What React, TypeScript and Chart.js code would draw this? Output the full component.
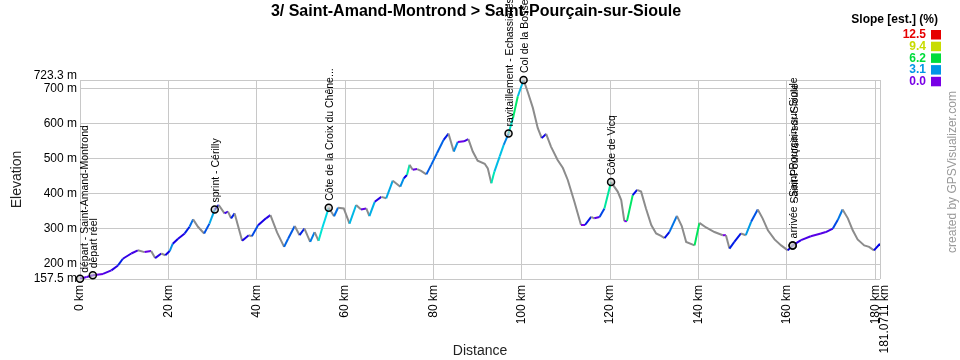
import React, { useEffect, useRef } from 'react';
import { Chart, registerables } from 'chart.js';

Chart.register(...registerables);

const titleText = '3/ Saint-Amand-Montrond > Saint-Pourçain-sur-Sioule';
const xAxisTitle = 'Distance';
const yAxisTitle = 'Elevation';
const creditText = 'created by GPSVisualizer.com';
const legendTitle = 'Slope [est.] (%)';

const distKm = [
  0, 1.5, 2.9, 5.2, 7.1, 8.6, 9.7, 11.6, 13.1, 14.6, 16.1, 17.0, 18.4, 19.3, 20.3, 21.0, 22.2, 23.7, 24.8,
  25.6, 26.7, 28.1, 29.3, 30.5, 31.4, 32.7, 33.5, 34.2, 35.0, 36.7, 38.2, 38.9, 40.3, 42.1, 43.1, 44.6,
  46.2, 47.1, 48.6, 49.7, 50.8, 52.1, 53.1, 54.0, 54.8, 56.3, 57.5, 58.4, 59.7, 61.0, 62.5, 63.6, 64.8,
  65.5, 66.7, 68.2, 69.3, 70.8, 72.5, 73.3, 74.0, 74.6, 75.3, 76.3, 77.2, 78.4, 79.5, 80.8, 82.3, 83.4,
  84.6, 85.5, 86.9, 87.9, 88.9, 90.0, 91.6, 92.3, 93.1, 93.8, 95.0, 95.9, 97.0, 98.0, 99.1, 100.4, 101.4,
  102.5, 103.6, 104.5, 105.5, 106.6, 108.1, 109.3, 110.4, 111.9, 113.4, 114.3, 115.7, 116.4, 117.6, 118.7,
  120.2, 121.7, 122.5, 123.2, 123.8, 125.1, 126.1, 127.0, 128.1, 129.3, 130.4, 131.5, 132.3, 133.4, 135.1,
  136.2, 137.2, 139.1, 140.2, 141.7, 143.6, 145.5, 146.2, 147.0, 148.1, 149.6, 150.7, 151.9, 153.4, 154.5,
  155.7, 157.2, 158.7, 160.2, 161.3, 163.2, 165.4, 167.7, 168.8, 170.4, 171.5, 172.6, 173.8, 174.9, 176.0,
  177.5, 178.6, 179.7, 181.0711,
];

const elevM = [
  158, 163, 168, 172, 182, 196, 215, 230, 239, 234, 237, 217, 230, 225, 237, 258, 272, 287, 306,
  327, 306, 287, 315, 355, 368, 344, 349, 330, 344, 266, 282, 279, 310, 330, 339, 290,
  249, 272, 308, 282, 301, 263, 291, 266, 301, 360, 336, 360, 358, 315, 368, 355, 358,
  336, 377, 391, 387, 437, 420, 444, 453, 482, 468, 470, 465, 455, 482, 515, 553, 571,
  520, 547, 549, 555, 520, 494, 485, 472, 430, 463, 506, 539, 571, 615, 677, 723.3, 687,
  644, 587, 558, 570, 534, 496, 473, 439, 377, 311, 311, 334, 330, 334, 358,
  433, 406, 382, 322, 322, 396, 411, 406, 358, 311, 287, 280, 274, 291, 337,
  308, 263, 253, 317, 304, 291, 282, 282, 244, 263, 287, 282, 320, 355, 330,
  296, 270, 253, 239, 253, 268, 279, 287, 291, 301, 325, 355, 330, 296, 270,
  253, 249, 239, 258,
];

const markerKm = [0, 2.9, 30.5, 56.3, 97.0, 100.4, 120.2, 161.3, 161.3];
const markerElev = [158, 168, 355, 360, 571, 723.3, 433, 253, 253];
const markerLabels = [
  'départ - Saint-Amand-Montrond',
  'départ réel',
  'sprint - Cérilly',
  'Côte de la Croix du Chêne...',
  'ravitaillement - Echassières',
  'Col de la Bosse',
  'Côte de Vicq',
  'arrivée - Saint-Pourçain-sur-Sioule',
  'Saint-Pourçain-sur-Sioule',
];

const xTickValues = [0, 20, 40, 60, 80, 100, 120, 140, 160, 180, 181.0711];
const yTickValues = [157.5, 200, 300, 400, 500, 600, 700, 723.3];

const slopeStops = [0, 3.1, 6.2, 9.4, 12.5];
const slopeLabels = ['0.0', '3.1', '6.2', '9.4', '12.5'];
const slopeColors = ['#7800e6', '#0096e6', '#00dc3c', '#c8dc00', '#e60000'];
const slopeHues = [271, 201, 136, 65, 0];
const descentColor = '#8c8c8c';

const FONT = '"Liberation Sans", Arial, Helvetica, sans-serif';

function hsvToRgb(h: number, s: number, v: number) {
  const c = v * s;
  const hp = h / 60;
  const x = c * (1 - Math.abs((hp % 2) - 1));
  let r = 0, g = 0, b = 0;
  if (hp < 1) [r, g, b] = [c, x, 0];
  else if (hp < 2) [r, g, b] = [x, c, 0];
  else if (hp < 3) [r, g, b] = [0, c, x];
  else if (hp < 4) [r, g, b] = [0, x, c];
  else if (hp < 5) [r, g, b] = [x, 0, c];
  else [r, g, b] = [c, 0, x];
  const m = v - c;
  return `rgb(${Math.round((r + m) * 255)},${Math.round((g + m) * 255)},${Math.round((b + m) * 255)})`;
}

function slopeColor(x0: number, y0: number, x1: number, y1: number) {
  const dx = (x1 - x0) * 1000;
  const s = dx > 0 ? ((y1 - y0) / dx) * 100 : 0;
  if (s < 0) return descentColor;
  if (s >= slopeStops[slopeStops.length - 1]) return slopeColors[slopeColors.length - 1];
  for (let i = 0; i < slopeStops.length - 1; i++) {
    if (s <= slopeStops[i + 1]) {
      const t = (s - slopeStops[i]) / (slopeStops[i + 1] - slopeStops[i]);
      const h = slopeHues[i] + (slopeHues[i + 1] - slopeHues[i]) * t;
      return hsvToRgb(h, 1, 0.9);
    }
  }
  return slopeColors[0];
}

const labelNudge: Record<number, { dx: number; dy: number }> = {
  0: { dx: 5, dy: 6 },
  8: { dx: 2, dy: 42 },
};

const decorPlugin = {
  id: 'decor',
  afterDraw(chart: any) {
    const ctx = chart.ctx as CanvasRenderingContext2D;
    const xs = chart.scales.x;
    const ys = chart.scales.y;
    ctx.save();
    // title
    ctx.fillStyle = '#000';
    ctx.font = `bold 16px ${FONT}`;
    ctx.textAlign = 'center';
    ctx.textBaseline = 'middle';
    ctx.fillText(titleText, 476, 12);

    // legend
    ctx.font = `bold 12px ${FONT}`;
    ctx.textAlign = 'right';
    ctx.fillText(legendTitle, 938, 20);
    for (let i = 0; i < slopeStops.length; i++) {
      const idx = slopeStops.length - 1 - i;
      const y = 30 + i * 11.7;
      ctx.fillStyle = slopeColors[idx];
      ctx.fillText(slopeLabels[idx], 926, y + 5);
      ctx.fillRect(931, y, 10, 9.5);
    }

    // credit
    ctx.save();
    ctx.translate(953, 172);
    ctx.rotate(-Math.PI / 2);
    ctx.font = `12px ${FONT}`;
    ctx.fillStyle = '#999';
    ctx.textAlign = 'center';
    ctx.fillText(creditText, 0, 0);
    ctx.restore();

    // last x label (offset to the right of the 180 km label)
    ctx.save();
    const lastX = xTickValues[xTickValues.length - 1];
    ctx.translate(xs.getPixelForValue(lastX) + 5, xs.top + 6);
    ctx.rotate(-Math.PI / 2);
    ctx.font = `12px ${FONT}`;
    ctx.fillStyle = '#000';
    ctx.textAlign = 'right';
    ctx.fillText(`${lastX} km`, 0, 0);
    ctx.restore();

    // top y label (lifted above the 700 m label)
    const topY = yTickValues[yTickValues.length - 1];
    ctx.font = `12px ${FONT}`;
    ctx.fillStyle = '#000';
    ctx.textAlign = 'right';
    ctx.textBaseline = 'middle';
    ctx.fillText(`${topY} m`, ys.right - 3, ys.getPixelForValue(topY) - 4);

    // marker labels
    ctx.font = `10.5px ${FONT}`;
    ctx.fillStyle = '#000';
    ctx.textAlign = 'left';
    ctx.textBaseline = 'middle';
    for (let i = 0; i < markerKm.length; i++) {
      const n = labelNudge[i] || { dx: 1.5, dy: 7 };
      const px = xs.getPixelForValue(markerKm[i]) + n.dx;
      const py = ys.getPixelForValue(markerElev[i]) - n.dy;
      ctx.save();
      ctx.translate(px, py);
      ctx.rotate(-Math.PI / 2);
      ctx.fillText(markerLabels[i], 0, 0);
      ctx.restore();
    }
    ctx.restore();
  },
};

export default function App() {
  const ref = useRef<HTMLCanvasElement>(null);
  useEffect(() => {
    document.body.style.margin = '0';
    const canvas = ref.current;
    if (!canvas) return;
    const profile = distKm.map((d, i) => ({ x: d, y: elevM[i] }));
    const marks = markerKm.map((d, i) => ({ x: d, y: markerElev[i] }));
    const chart = new Chart(canvas, {
      type: 'line',
      data: {
        datasets: [
          {
            label: 'markers',
            data: marks,
            showLine: false,
            clip: false,
            pointRadius: 3.5,
            pointBorderWidth: 1.5,
            pointBorderColor: '#000',
            pointBackgroundColor: 'rgba(200,200,200,0.6)',
          },
          {
            label: 'Elevation',
            data: profile,
            borderWidth: 2,
            pointRadius: 0,
            tension: 0,
            borderColor: descentColor,
            segment: {
              borderColor: (c: any) => slopeColor(c.p0.parsed.x, c.p0.parsed.y, c.p1.parsed.x, c.p1.parsed.y),
            },
          },
        ],
      },
      options: {
        animation: false,
        responsive: false,
        layout: { padding: { top: 80, right: 80, left: 0, bottom: 0 } },
        plugins: { legend: { display: false }, tooltip: { enabled: false }, title: { display: false } },
        scales: {
          x: {
            type: 'linear',
            min: 0,
            max: 181.0711,
            afterBuildTicks: (s: any) => {
              s.ticks = xTickValues.map((v) => ({ value: v }));
            },
            afterFit: (s: any) => {
              s.height = 81;
            },
            ticks: {
              autoSkip: false,
              minRotation: 90,
              maxRotation: 90,
              padding: 6,
              color: '#000',
              font: { family: FONT, size: 12 },
              callback: (v: any) => (Number(v) > 180.5 ? '' : `${v} km`),
            },
            grid: { color: '#c8c8c8', lineWidth: 1, drawTicks: false },
            border: { display: false },
            title: {
              display: true,
              text: xAxisTitle,
              color: '#222',
              font: { family: FONT, size: 14 },
              padding: { top: 0, bottom: 0 },
            },
          },
          y: {
            type: 'linear',
            min: 157.5,
            max: 723.3,
            afterBuildTicks: (s: any) => {
              s.ticks = yTickValues.map((v) => ({ value: v }));
            },
            afterFit: (s: any) => {
              s.width = 80;
            },
            ticks: {
              autoSkip: false,
              padding: 3,
              color: '#000',
              font: { family: FONT, size: 12 },
              callback: (v: any) => (Number(v) > 720 ? '' : `${v} m`),
            },
            grid: { color: '#c8c8c8', lineWidth: 1, drawTicks: false },
            border: { display: false },
            title: {
              display: true,
              text: yAxisTitle,
              color: '#222',
              font: { family: FONT, size: 14 },
              padding: { top: 9, bottom: 0 },
            },
          },
        },
      },
      plugins: [decorPlugin],
    });
    return () => chart.destroy();
  }, []);
  return (
    <div style={{ width: 960, height: 360 }}>
      <canvas ref={ref} width={960} height={360} style={{ display: 'block' }} />
    </div>
  );
}
